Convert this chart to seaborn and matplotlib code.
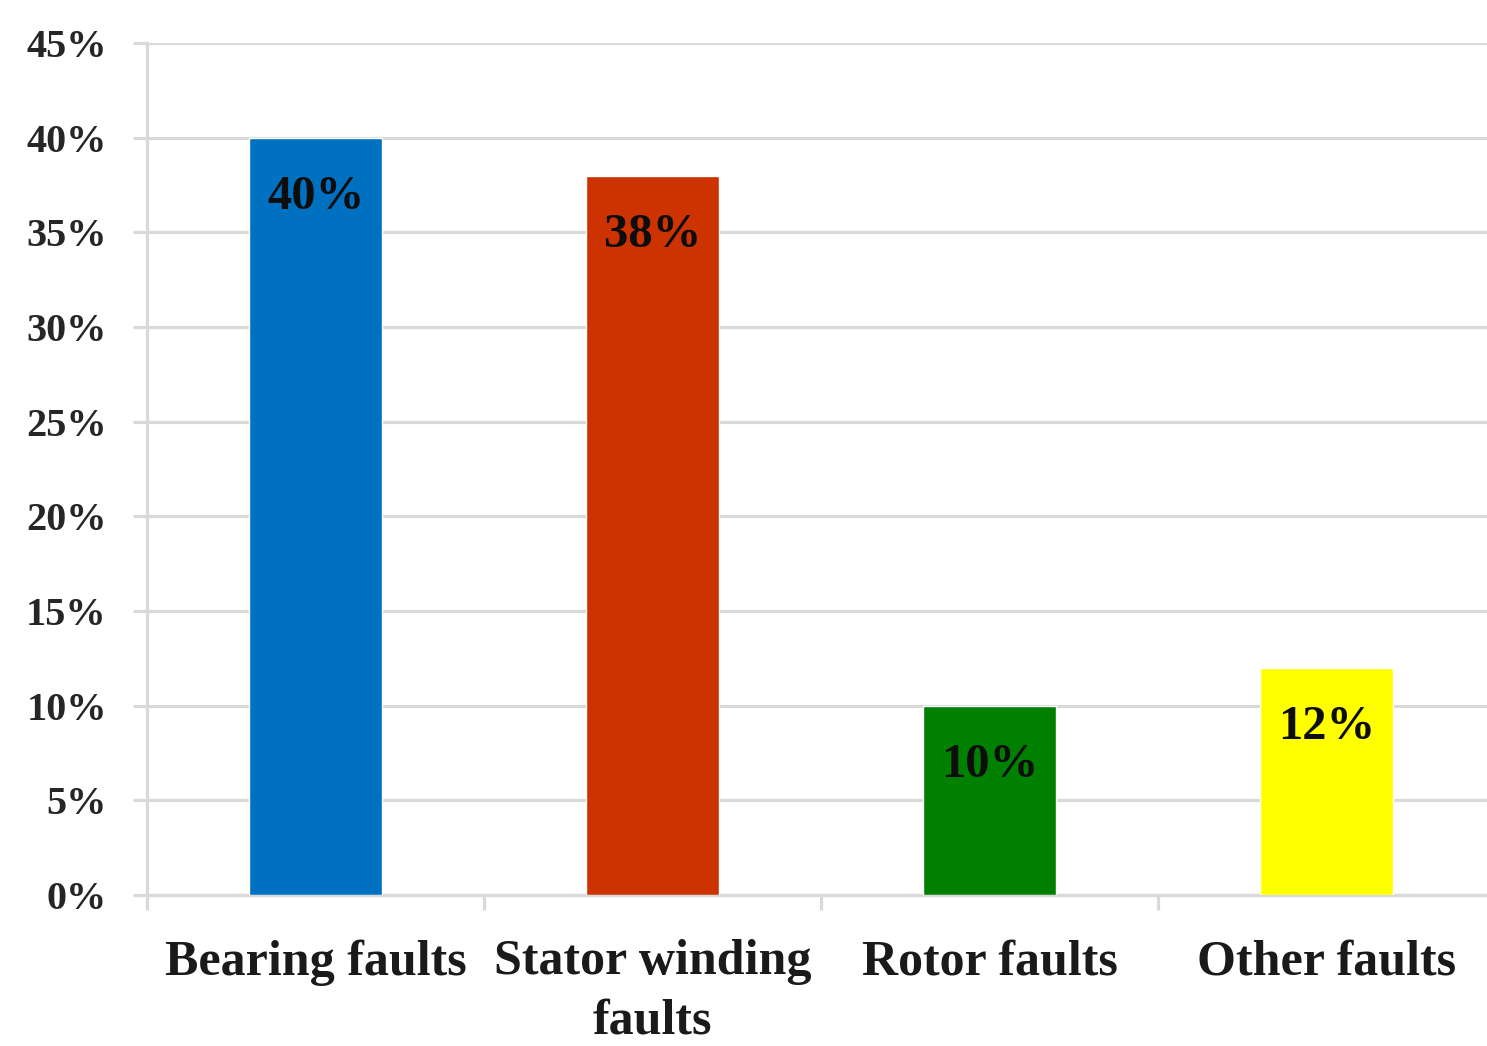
import matplotlib
matplotlib.use("Agg")
import matplotlib.pyplot as plt
import seaborn as sns
import pandas as pd
from matplotlib.ticker import FixedLocator, PercentFormatter

# Share of induction motor faults by type
categories = ["Bearing faults", "Stator winding\nfaults", "Rotor faults", "Other faults"]
shares = [40, 38, 10, 12]
bar_colors = ["#0070C0", "#CC3300", "#008000", "#FFFF00"]
value_labels = ["40%", "38%", "10%", "12%"]
y_ticks = [0, 5, 10, 15, 20, 25, 30, 35, 40, 45]

sns.set_theme(style="white")
plt.rcParams["font.family"] = ["Liberation Serif", "DejaVu Serif"]
plt.rcParams["font.weight"] = "bold"

df = pd.DataFrame({"fault": categories, "share": shares})

fig = plt.figure(figsize=(14.87, 10.46), dpi=100)
ax = fig.add_axes([0.0989, 0.1444, 0.9065, 0.8145])

sns.barplot(data=df, x="fault", y="share", hue="fault", palette=bar_colors,
            width=0.395, legend=False, ax=ax, saturation=1, zorder=3)

grid_color = "#d9d9d9"
ax.set_xlim(-0.5, 3.5)
ax.set_ylim(0, 45)
ax.yaxis.set_major_locator(FixedLocator(y_ticks))
ax.yaxis.set_major_formatter(PercentFormatter(decimals=0))
ax.yaxis.grid(True, color=grid_color, linewidth=2.3, zorder=0)
ax.set_axisbelow(True)

# category boundaries carry the tick marks, labels sit at the centres
ax.xaxis.set_major_locator(FixedLocator([-0.5, 0.5, 1.5, 2.5, 3.5]))
ax.xaxis.set_major_formatter(plt.NullFormatter())
ax.xaxis.set_minor_locator(FixedLocator([0, 1, 2, 3]))
ax.set_xticklabels(categories, minor=True)
ax.tick_params(axis="x", which="major", length=11, width=2.3, color=grid_color, direction="out")
ax.tick_params(axis="x", which="minor", length=0, pad=32, labelsize=36, labelcolor="#1a1a1a")
ax.tick_params(axis="y", length=10, width=2.3, color=grid_color, direction="out",
               pad=19, labelsize=29, labelcolor="#262626")
ax.tick_params(bottom=True, left=True)
for lbl in ax.get_xticklabels(minor=True):
    lbl.set_fontweight("bold")
    lbl.set_linespacing(1.38)
for lbl in ax.get_yticklabels():
    lbl.set_fontweight("bold")

for side in ["top", "right"]:
    ax.spines[side].set_visible(False)
for side in ["left", "bottom"]:
    ax.spines[side].set_color(grid_color)
    ax.spines[side].set_linewidth(2.3)

ax.set_xlabel("")
ax.set_ylabel("")

for i, (v, txt) in enumerate(zip(shares, value_labels)):
    ax.annotate(txt, (i, v), xytext=(0, -43), textcoords="offset points",
                ha="center", va="center", fontsize=35, fontweight="bold",
                color="#0d0d0d", zorder=5)

fig.savefig("out.png", dpi=100)
